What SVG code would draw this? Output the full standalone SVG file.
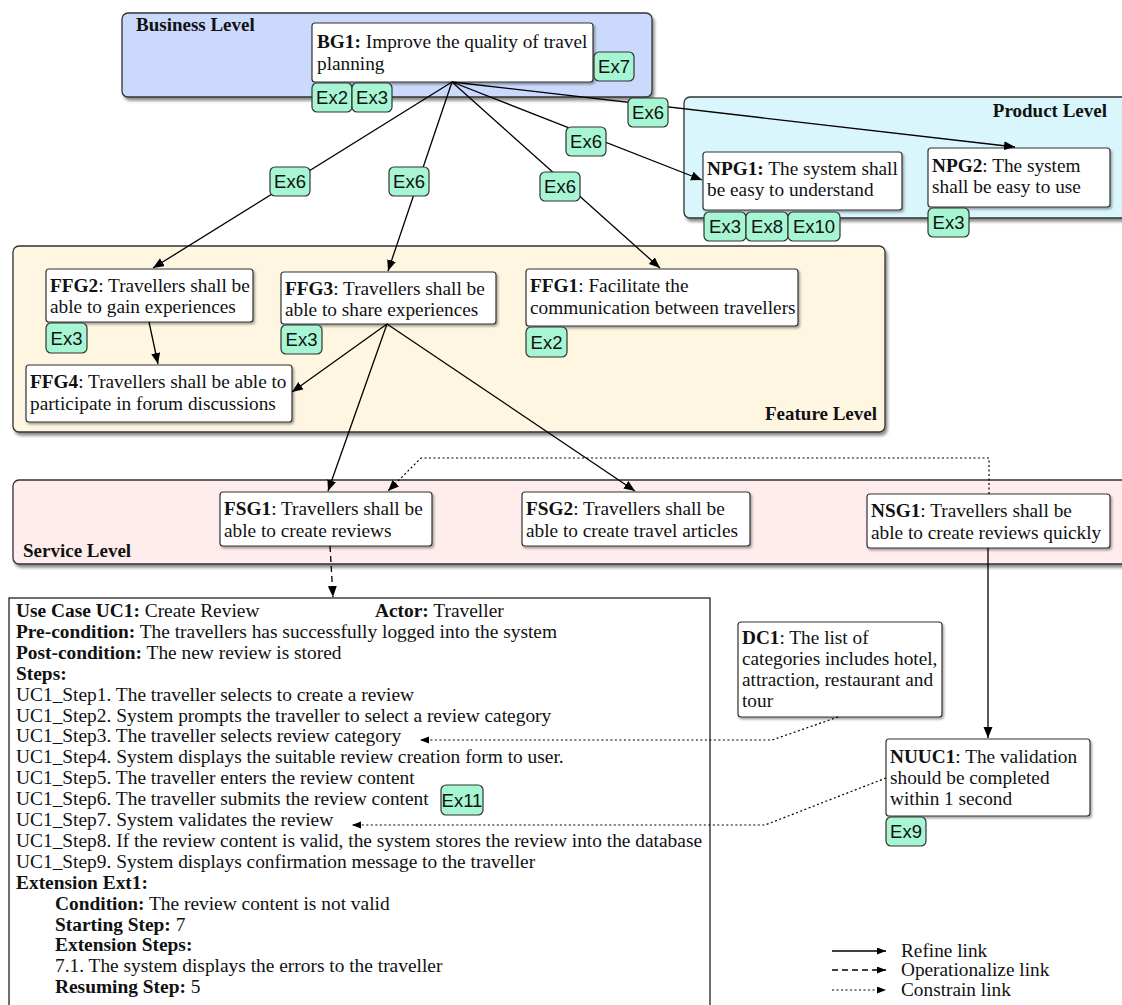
<svg xmlns="http://www.w3.org/2000/svg" width="1122" height="1005" viewBox="0 0 1122 1005">
<defs>
<filter id="sh" x="-5%" y="-5%" width="112%" height="125%"><feDropShadow dx="2" dy="3" stdDeviation="1.8" flood-color="#000" flood-opacity="0.45"/></filter>
<filter id="sh2" x="-5%" y="-5%" width="112%" height="125%"><feDropShadow dx="1.5" dy="2" stdDeviation="1.2" flood-color="#000" flood-opacity="0.35"/></filter>
<marker id="ah" markerUnits="userSpaceOnUse" markerWidth="12" markerHeight="10" refX="11" refY="4.5" orient="auto"><path d="M0,0 L11,4.5 L0,9 z" fill="#000"/></marker>
<marker id="ahs" markerUnits="userSpaceOnUse" markerWidth="10" markerHeight="8" refX="9" refY="3.5" orient="auto"><path d="M0,0 L9,3.5 L0,7 z" fill="#000"/></marker>
</defs>
<style>
.lvl{stroke:#333;stroke-width:1.3}
.node{fill:#fff;stroke:#333;stroke-width:1.2}
.t{font-family:"Liberation Serif","Times New Roman",serif;font-size:19.3px;fill:#111}
.b{font-weight:bold}
.lt{font-family:"Liberation Serif","Times New Roman",serif;font-size:19px;font-weight:bold;fill:#111}
.tag rect{fill:#a7f6d3;stroke:#333;stroke-width:1.2}
.tag text{font-family:"Liberation Sans",Arial,sans-serif;font-size:18.5px;fill:#111;text-anchor:middle}
.ref{fill:none;stroke:#000;stroke-width:1.3}
.op{fill:none;stroke:#000;stroke-width:1.3;stroke-dasharray:6 4}
.con{fill:none;stroke:#000;stroke-width:1.2;stroke-dasharray:2 2.5}
.uc{font-family:"Liberation Serif","Times New Roman",serif;font-size:19.4px;fill:#111}
</style>

<!-- Level containers -->
<g id="business-level"><rect class="lvl" x="122" y="13" width="530" height="84" rx="6" fill="#cbd9fc" filter="url(#sh)"/><text class="lt" x="136" y="31">Business Level</text></g>
<g id="product-level"><rect class="lvl" x="684" y="97" width="448" height="121" rx="6" fill="#d9f6fc" filter="url(#sh)"/><text class="lt" x="1107" y="117" text-anchor="end">Product Level</text></g>
<g id="feature-level"><rect class="lvl" x="13" y="246" width="872" height="186" rx="6" fill="#fff6e1" filter="url(#sh)"/><text class="lt" x="877" y="420" text-anchor="end">Feature Level</text></g>
<g id="service-level"><rect class="lvl" x="13" y="480" width="1119" height="84" rx="6" fill="#ffeded" filter="url(#sh)"/><text class="lt" x="23" y="557">Service Level</text></g>

<!-- Nodes -->
<g id="BG1"><rect class="node" x="312" y="23" width="281" height="59" rx="3" filter="url(#sh2)"/><text class="t" x="317" y="48"><tspan class="b">BG1:</tspan> Improve the quality of travel</text><text class="t" x="317" y="70">planning</text></g>
<g id="NPG1"><rect class="node" x="703" y="152" width="199" height="58" rx="3" filter="url(#sh2)"/><text class="t" x="707" y="175"><tspan class="b">NPG1:</tspan> The system shall</text><text class="t" x="707" y="196">be easy to understand</text></g>
<g id="NPG2"><rect class="node" x="928" y="148" width="182" height="59" rx="3" filter="url(#sh2)"/><text class="t" x="932" y="172"><tspan class="b">NPG2</tspan>: The system</text><text class="t" x="932" y="193">shall be easy to use</text></g>
<g id="FFG2"><rect class="node" x="46" y="269" width="207" height="53" rx="3" filter="url(#sh2)"/><text class="t" x="50" y="292"><tspan class="b">FFG2</tspan>: Travellers shall be</text><text class="t" x="50" y="313">able to gain experiences</text></g>
<g id="FFG3"><rect class="node" x="281" y="272" width="215" height="52" rx="3" filter="url(#sh2)"/><text class="t" x="285" y="295"><tspan class="b">FFG3</tspan>: Travellers shall be</text><text class="t" x="285" y="316">able to share experiences</text></g>
<g id="FFG1"><rect class="node" x="526" y="269" width="272" height="57" rx="3" filter="url(#sh2)"/><text class="t" x="530" y="292"><tspan class="b">FFG1</tspan>: Facilitate the</text><text class="t" x="530" y="314">communication between travellers</text></g>
<g id="FFG4"><rect class="node" x="26" y="365" width="266" height="57" rx="3" filter="url(#sh2)"/><text class="t" x="30" y="388"><tspan class="b">FFG4</tspan>: Travellers shall be able to</text><text class="t" x="30" y="410">participate in forum discussions</text></g>
<g id="FSG1"><rect class="node" x="220" y="492" width="212" height="54" rx="3" filter="url(#sh2)"/><text class="t" x="224" y="515"><tspan class="b">FSG1</tspan>: Travellers shall be</text><text class="t" x="224" y="537">able to create reviews</text></g>
<g id="FSG2"><rect class="node" x="522" y="492" width="228" height="54" rx="3" filter="url(#sh2)"/><text class="t" x="526" y="515"><tspan class="b">FSG2</tspan>: Travellers shall be</text><text class="t" x="526" y="537">able to create travel articles</text></g>
<g id="NSG1"><rect class="node" x="867" y="494" width="243" height="54" rx="3" filter="url(#sh2)"/><text class="t" x="871" y="517"><tspan class="b">NSG1</tspan>: Travellers shall be</text><text class="t" x="871" y="539">able to create reviews quickly</text></g>
<g id="DC1"><rect class="node" x="738" y="622" width="204" height="95" rx="3" filter="url(#sh2)"/><text class="t" x="742" y="644"><tspan class="b">DC1</tspan>: The list of</text><text class="t" x="742" y="665">categories includes hotel,</text><text class="t" x="742" y="686">attraction, restaurant and</text><text class="t" x="742" y="707">tour</text></g>
<g id="NUUC1"><rect class="node" x="886" y="739" width="204" height="77" rx="3" filter="url(#sh2)"/><text class="t" x="890" y="763"><tspan class="b">NUUC1</tspan>: The validation</text><text class="t" x="890" y="784">should be completed</text><text class="t" x="890" y="805">within 1 second</text></g>

<g id="UC1">
<rect x="9" y="598" width="701" height="420" fill="#fff" stroke="#222" stroke-width="1.3"/>
<text class="uc" x="16" y="617"><tspan class="b">Use Case UC1:</tspan> Create Review</text>
<text class="uc" x="375" y="617"><tspan class="b">Actor:</tspan> Traveller</text>
<text class="uc" x="16" y="637.9"><tspan class="b">Pre-condition:</tspan> The travellers has successfully logged into the system</text>
<text class="uc" x="16" y="658.8"><tspan class="b">Post-condition:</tspan> The new review is stored</text>
<text class="uc b" x="16" y="679.7">Steps:</text>
<text class="uc" x="16" y="700.6">UC1_Step1. The traveller selects to create a review</text>
<text class="uc" x="16" y="721.5">UC1_Step2. System prompts the traveller to select a review category</text>
<text class="uc" x="16" y="742.4">UC1_Step3. The traveller selects review category</text>
<text class="uc" x="16" y="763.3">UC1_Step4. System displays the suitable review creation form to user.</text>
<text class="uc" x="16" y="784.2">UC1_Step5. The traveller enters the review content</text>
<text class="uc" x="16" y="805.1">UC1_Step6. The traveller submits the review content</text>
<text class="uc" x="16" y="826">UC1_Step7. System validates the review</text>
<text class="uc" x="16" y="846.9">UC1_Step8. If the review content is valid, the system stores the review into the database</text>
<text class="uc" x="16" y="867.8">UC1_Step9. System displays confirmation message to the traveller</text>
<text class="uc b" x="16" y="888.7">Extension Ext1:</text>
<text class="uc" x="55" y="909.6"><tspan class="b">Condition:</tspan> The review content is not valid</text>
<text class="uc" x="55" y="930.5"><tspan class="b">Starting Step:</tspan> 7</text>
<text class="uc b" x="55" y="951.4">Extension Steps:</text>
<text class="uc" x="55" y="972.3">7.1. The system displays the errors to the traveller</text>
<text class="uc" x="55" y="993.2"><tspan class="b">Resuming Step:</tspan> 5</text>
</g>

<!-- Connectors -->
<g id="connectors">
<path class="ref" d="M452,82 L153,268" marker-end="url(#ah)"/>
<path class="ref" d="M452,82 L388,271" marker-end="url(#ah)"/>
<path class="ref" d="M452,82 L660,268" marker-end="url(#ah)"/>
<path class="ref" d="M452,82 L702,180" marker-end="url(#ah)"/>
<path class="ref" d="M452,82 L1015,147" marker-end="url(#ah)"/>
<path class="ref" d="M149,322 L158,364" marker-end="url(#ah)"/>
<path class="ref" d="M387,324 L292,392" marker-end="url(#ah)"/>
<path class="ref" d="M387,324 L328,491" marker-end="url(#ah)"/>
<path class="ref" d="M387,324 L635,491" marker-end="url(#ah)"/>
<path class="con" d="M989,494 V458 H421 L388,491" marker-end="url(#ah)"/>
<path class="ref" d="M988,548 V738" marker-end="url(#ah)"/>
<path class="op" d="M330,546 L333,597" marker-end="url(#ah)"/>
<path class="con" d="M838,717 L772,740 H420" marker-end="url(#ahs)"/>
<path class="con" d="M886,778 L765,825 H352" marker-end="url(#ahs)"/>
</g>

<!-- Example tags -->
<g id="tag-BG1-Ex2" class="tag"><rect x="312" y="83" width="40" height="29" rx="5"/><text x="332" y="104">Ex2</text></g>
<g id="tag-BG1-Ex3" class="tag"><rect x="352" y="83" width="40" height="29" rx="5"/><text x="372" y="104">Ex3</text></g>
<g id="tag-BG1-Ex7" class="tag"><rect x="594" y="52" width="40" height="29" rx="5"/><text x="614" y="73">Ex7</text></g>
<g id="tag-Ex6-a" class="tag"><rect x="628" y="98" width="40" height="29" rx="5"/><text x="648" y="119">Ex6</text></g>
<g id="tag-Ex6-b" class="tag"><rect x="566" y="127" width="40" height="29" rx="5"/><text x="586" y="148">Ex6</text></g>
<g id="tag-Ex6-c" class="tag"><rect x="270" y="167" width="40" height="29" rx="5"/><text x="290" y="188">Ex6</text></g>
<g id="tag-Ex6-d" class="tag"><rect x="389" y="167" width="40" height="29" rx="5"/><text x="409" y="188">Ex6</text></g>
<g id="tag-Ex6-e" class="tag"><rect x="540" y="172" width="40" height="29" rx="5"/><text x="560" y="193">Ex6</text></g>
<g id="tag-NPG1-Ex3" class="tag"><rect x="704" y="212" width="42" height="29" rx="5"/><text x="725" y="233">Ex3</text></g>
<g id="tag-NPG1-Ex8" class="tag"><rect x="746" y="212" width="42" height="29" rx="5"/><text x="767" y="233">Ex8</text></g>
<g id="tag-NPG1-Ex10" class="tag"><rect x="788" y="212" width="52" height="29" rx="5"/><text x="814" y="233">Ex10</text></g>
<g id="tag-NPG2-Ex3" class="tag"><rect x="928" y="208" width="41" height="29" rx="5"/><text x="948.5" y="229">Ex3</text></g>
<g id="tag-FFG2-Ex3" class="tag"><rect x="46" y="323" width="41" height="30" rx="5"/><text x="66.5" y="345">Ex3</text></g>
<g id="tag-FFG3-Ex3" class="tag"><rect x="281" y="325" width="41" height="29" rx="5"/><text x="301.5" y="346">Ex3</text></g>
<g id="tag-FFG1-Ex2" class="tag"><rect x="526" y="327" width="41" height="30" rx="5"/><text x="546.5" y="349">Ex2</text></g>
<g id="tag-UC1-Ex11" class="tag"><rect x="441" y="785" width="42" height="30" rx="5"/><text x="462" y="807">Ex11</text></g>
<g id="tag-NUUC1-Ex9" class="tag"><rect x="886" y="817" width="40" height="29" rx="5"/><text x="906" y="838">Ex9</text></g>

<!-- Legend -->
<g id="legend">
<path class="ref" d="M832,951 H886" marker-end="url(#ahs)"/>
<path class="op" d="M832,970 H886" stroke-dasharray="5 3" marker-end="url(#ahs)"/>
<path class="con" d="M832,990 H886" marker-end="url(#ahs)"/>
<text class="t" x="901" y="957">Refine link</text>
<text class="t" x="901" y="976">Operationalize link</text>
<text class="t" x="901" y="996">Constrain link</text>
</g>
</svg>
